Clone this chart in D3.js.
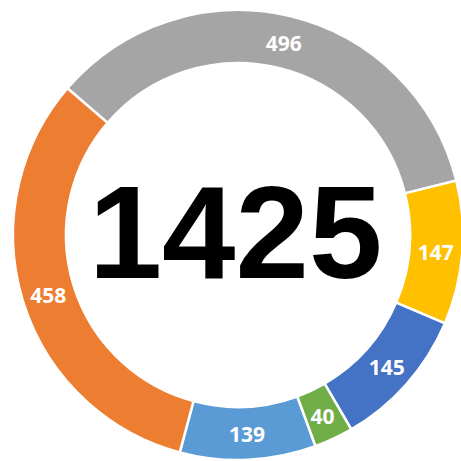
<!DOCTYPE html>
<html><head><meta charset="utf-8">
<script src="https://cdn.jsdelivr.net/npm/d3@7"></script>
<style>html,body{margin:0;padding:0;background:#fff;overflow:hidden}</style>
</head><body>
<svg id="chart" width="461" height="461"></svg>
<script>
const categories = ["A", "B", "C", "D", "E", "F"];
const values = [496, 147, 145, 40, 139, 458];
const colors = ["#A5A5A5", "#FFC000", "#4472C4", "#70AD47", "#5B9BD5", "#ED7D31"];
const totalLabel = "1425";

const svg = d3.select("#chart");
const cx = 238, cy = 235, R = 225, r = 172;
const start = -49.3 * Math.PI / 180;

const pie = d3.pie().sort(null).value(d => d).startAngle(start).endAngle(start + 2 * Math.PI);
const arcs = pie(values);
const arc = d3.arc().innerRadius(r).outerRadius(R);

const g = svg.append("g").attr("transform", `translate(${cx},${cy})`);
g.selectAll("path").data(arcs).join("path")
  .attr("d", arc)
  .attr("fill", (d, i) => colors[i])
  .attr("stroke", "#fff")
  .attr("stroke-width", 2.5);

g.selectAll("text").data(arcs).join("text")
  .attr("x", d => arc.centroid(d)[0])
  .attr("y", d => arc.centroid(d)[1] + 1)
  .attr("text-anchor", "middle")
  .attr("dominant-baseline", "central")
  .attr("font-family", "'Open Sans', sans-serif")
  .attr("font-weight", "bold")
  .attr("font-size", 21)
  .attr("fill", "#fff")
  .text(d => d.data);

svg.append("text")
  .attr("x", 235.5).attr("y", 278)
  .attr("text-anchor", "middle")
  .attr("font-family", "'Liberation Sans', Arial, sans-serif")
  .attr("font-weight", "bold")
  .attr("font-size", 132)
  .attr("fill", "#000")
  .text(totalLabel);
</script>
</body></html>
